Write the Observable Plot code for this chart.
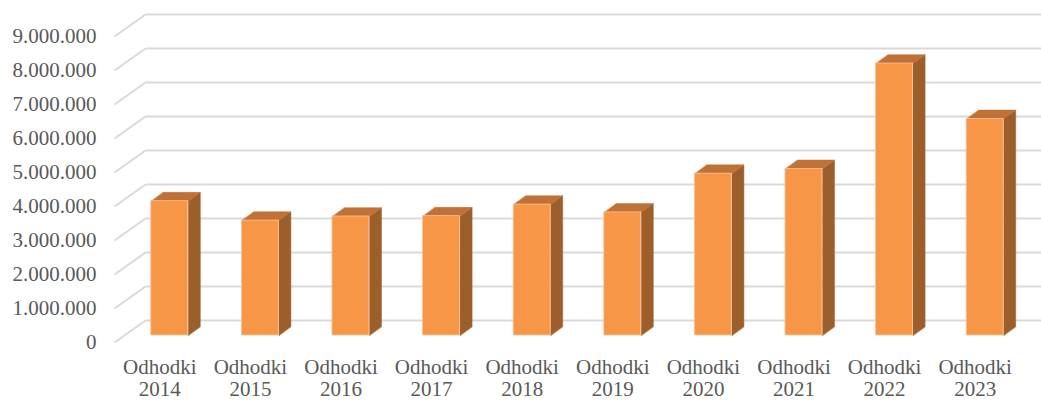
<!DOCTYPE html>
<html>
<head>
<meta charset="utf-8">
<script src="https://cdn.jsdelivr.net/npm/d3@7"></script>
<script src="https://cdn.jsdelivr.net/npm/@observablehq/plot@0.6"></script>
<style>
  html, body { margin: 0; padding: 0; background: #fff; overflow: hidden; }
  #chart svg { overflow: hidden; }
</style>
</head>
<body>
<div id="chart"></div>
<script>
// ---- data ----
const categories = ["Odhodki 2014", "Odhodki 2015", "Odhodki 2016", "Odhodki 2017", "Odhodki 2018",
                    "Odhodki 2019", "Odhodki 2020", "Odhodki 2021", "Odhodki 2022", "Odhodki 2023"];
const values = [3950000, 3380000, 3500000, 3510000, 3850000, 3620000, 4760000, 4900000, 8000000, 6370000];
const yTicks = [0, 1000000, 2000000, 3000000, 4000000, 5000000, 6000000, 7000000, 8000000, 9000000];

// ---- 3D geometry (in data units) ----
const wallDX = 0.342, wallDY = 647000;     // depth of the back wall
const barOffX = 0.11, barOffY = 206000;    // bar front face position within depth
const barDX = 0.133, barDY = 260000;       // bar depth
const barW = 0.408;

const bars = values.map((v, i) => {
  const x1 = i + 0.5 + barOffX - barW / 2, x2 = x1 + barW;
  const y0 = barOffY, y1 = v + barOffY;
  return {i, v, x1, x2, y0, y1};
});
const sideFaces = bars.flatMap(b => [
  {k: b.i, x: b.x2, y: b.y0}, {k: b.i, x: b.x2, y: b.y1},
  {k: b.i, x: b.x2 + barDX, y: b.y1 + barDY}, {k: b.i, x: b.x2 + barDX, y: b.y0 + barDY}
]);
const topFaces = bars.flatMap(b => [
  {k: b.i, x: b.x1, y: b.y1}, {k: b.i, x: b.x2, y: b.y1},
  {k: b.i, x: b.x2 + barDX, y: b.y1 + barDY}, {k: b.i, x: b.x1 + barDX, y: b.y1 + barDY}
]);

const fmt = d => d3.format(",")(d).replace(/,/g, ".");
const font = "'Liberation Serif', 'Times New Roman', serif";

const chart = Plot.plot({
  width: 1041,
  height: 400,
  marginTop: 36,
  marginBottom: 58,
  marginLeft: 114,
  marginRight: 21,
  style: {fontFamily: font, fontSize: "21px", color: "#595959", background: "#fff"},
  x: {type: "linear", domain: [0, 10], axis: null},
  y: {type: "linear", domain: [0, 9000000], axis: null},
  marks: [
    // back wall gridlines
    Plot.link(yTicks, {x1: wallDX, x2: 10 + wallDX + 1, y1: d => d + wallDY, y2: d => d + wallDY,
                       stroke: "#d9d9d9", strokeWidth: 2}),
    // side wall diagonals
    Plot.link(yTicks, {x1: 0, x2: wallDX, y1: d => d, y2: d => d + wallDY,
                       stroke: "#d9d9d9", strokeWidth: 2}),
    // bar side faces
    Plot.line(sideFaces, {x: "x", y: "y", z: "k", fill: "#9c5f2b", stroke: "#9c5f2b", strokeWidth: 0.5, curve: "linear-closed"}),
    // bar top faces
    Plot.line(topFaces, {x: "x", y: "y", z: "k", fill: "#bf7137", stroke: "#bf7137", strokeWidth: 0.5, curve: "linear-closed"}),
    // bar front faces
    Plot.rect(bars, {x1: "x1", x2: "x2", y1: "y0", y2: "y1", fill: "#f79646", stroke: "#fbc49a", strokeWidth: 0.8}),
    // y axis labels
    Plot.axisY({ticks: yTicks, tickFormat: fmt, tickSize: 0, tickPadding: 18, fontSize: 21,
                fontFamily: font, fill: "#595959"}),
    // x axis labels
    Plot.axisX({ticks: categories.map((c, i) => i + 0.5),
                tickFormat: t => categories[Math.round(t - 0.5)].replace(" ", "\n"),
                tickSize: 0, tickPadding: 15, fontSize: 21, lineHeight: 1.08,
                fontFamily: font, fill: "#595959"})
  ]
});
document.getElementById("chart").appendChild(chart);
</script>
</body>
</html>
